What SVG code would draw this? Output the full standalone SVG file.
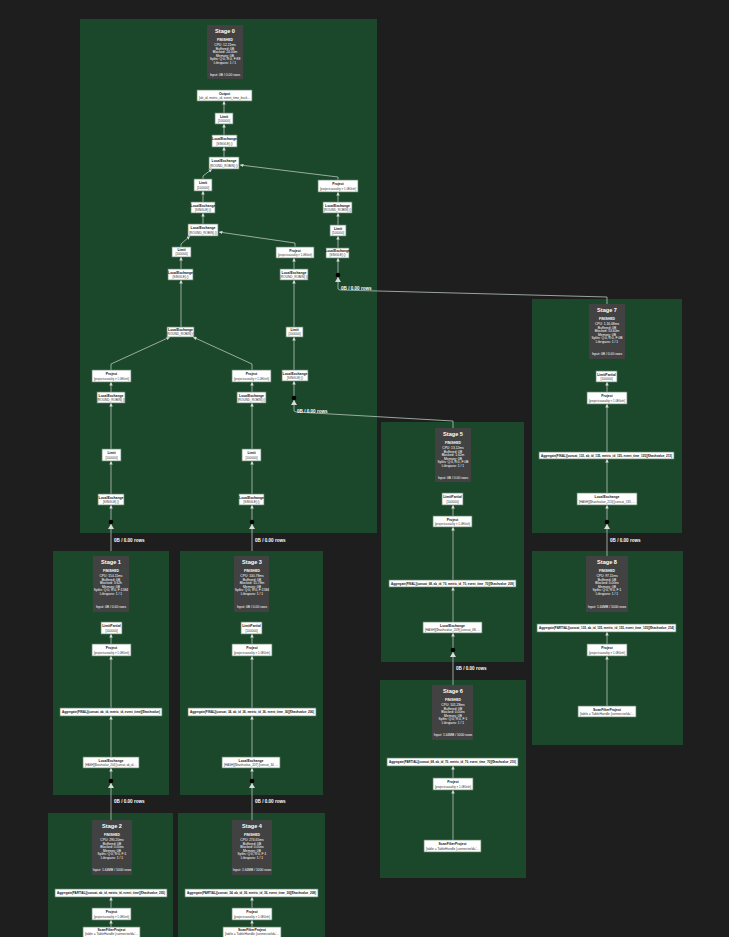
<svg xmlns="http://www.w3.org/2000/svg" width="729" height="937" viewBox="0 0 729 937">
<defs>
<style>
.cl{fill:#1b472b}
.hd{fill:#424242}
.nb{fill:#ffffff;stroke:#5f8068;stroke-width:0.7}
.t{font-family:"Liberation Sans",Arial,sans-serif;font-size:3.4px;font-weight:bold;fill:#111;text-anchor:middle}
.d{font-family:"Liberation Sans",Arial,sans-serif;font-size:3.1px;fill:#333;text-anchor:middle}
.ht{font-family:"Liberation Sans",Arial,sans-serif;font-size:5.6px;font-weight:bold;fill:#fff;text-anchor:middle}
.hs{font-family:"Liberation Sans",Arial,sans-serif;font-size:3.3px;fill:#fff;text-anchor:middle}
.hf{font-family:"Liberation Sans",Arial,sans-serif;font-size:3.4px;font-weight:bold;fill:#fff;text-anchor:middle}
.e{fill:none;stroke:#b9c6bd;stroke-width:0.8}
.lbl{font-family:"Liberation Sans",Arial,sans-serif;font-size:4.6px;font-weight:bold;fill:#fff}
.dot{fill:#000}
.ah{fill:#d6dcd8}
</style>
<marker id="a" viewBox="0 0 6 6" refX="6" refY="3" markerWidth="3.5" markerHeight="3.5" markerUnits="userSpaceOnUse" orient="auto"><path d="M0,0 L6,3 L0,6 z" fill="#d6dcd8"/></marker>
</defs>
<rect width="729" height="937" fill="#1e1e1e"/>

<g id="clusters">
<rect class="cl" x="80" y="19" width="297" height="514"/>
<rect class="cl" x="532" y="299" width="150" height="234"/>
<rect class="cl" x="381" y="422" width="143" height="240"/>
<rect class="cl" x="532" y="551" width="151" height="194"/>
<rect class="cl" x="380" y="680" width="146" height="198"/>
<rect class="cl" x="53" y="551" width="116" height="244"/>
<rect class="cl" x="180" y="551" width="143" height="244"/>
<rect class="cl" x="48" y="813" width="125" height="130"/>
<rect class="cl" x="178" y="813" width="147" height="130"/>
</g>

<g id="connectors">
<path class="e" marker-end="url(#a)" d="M224,113 L224,101"/>
<path class="e" marker-end="url(#a)" d="M224,135 L224,124"/>
<path class="e" marker-end="url(#a)" d="M224,157 L224,147"/>
<path class="e" marker-end="url(#a)" d="M203,179 L203,176 L212,169"/>
<path class="e" marker-end="url(#a)" d="M338,180 L338,177 L240,165"/>
<path class="e" marker-end="url(#a)" d="M203,202 L203,191"/>
<path class="e" marker-end="url(#a)" d="M338,202 L338,192"/>
<path class="e" marker-end="url(#a)" d="M203,224 L203,213"/>
<path class="e" marker-end="url(#a)" d="M338,225 L338,213"/>
<path class="e" marker-end="url(#a)" d="M181,247 L181,244 L190,236"/>
<path class="e" marker-end="url(#a)" d="M295,247 L295,243 L219,232"/>
<path class="e" marker-end="url(#a)" d="M338,248 L338,236"/>
<path class="e" marker-end="url(#a)" d="M181,269 L181,257"/>
<path class="e" marker-end="url(#a)" d="M294,269 L294,258"/>
<path class="e" marker-end="url(#a)" d="M181,327 L181,280"/>
<path class="e" marker-end="url(#a)" d="M294,327 L294,280"/>
<path class="e" marker-end="url(#a)" d="M111,370 L111,364 L170,337"/>
<path class="e" marker-end="url(#a)" d="M252,370 L252,364 L193,337"/>
<path class="e" marker-end="url(#a)" d="M294,370 L294,337"/>
<path class="e" marker-end="url(#a)" d="M111,392 L111,382"/>
<path class="e" marker-end="url(#a)" d="M252,392 L252,382"/>
<path class="e" marker-end="url(#a)" d="M111,449 L111,403"/>
<path class="e" marker-end="url(#a)" d="M252,449 L252,403"/>
<path class="e" marker-end="url(#a)" d="M111,494 L111,461"/>
<path class="e" marker-end="url(#a)" d="M252,494 L252,461"/>
<path class="e" marker-end="url(#a)" d="M111,551 L111,505"/>
<path class="e" marker-end="url(#a)" d="M252,551 L252,505"/>
<path class="e" marker-end="url(#a)" d="M453,428 L453,421 L296,412 L294,411 L294,381"/>
<path class="e" marker-end="url(#a)" d="M607,304 L607,297 L340,290 L338,289 L338,258"/>
<path class="e" marker-end="url(#a)" d="M607,392 L607,382"/>
<path class="e" marker-end="url(#a)" d="M607,452 L607,404"/>
<path class="e" marker-end="url(#a)" d="M607,493 L607,459"/>
<path class="e" marker-end="url(#a)" d="M607,556 L607,505"/>
<path class="e" marker-end="url(#a)" d="M607,644 L607,632"/>
<path class="e" marker-end="url(#a)" d="M607,706 L607,656"/>
<path class="e" marker-end="url(#a)" d="M453,516 L453,505"/>
<path class="e" marker-end="url(#a)" d="M453,580 L453,527"/>
<path class="e" marker-end="url(#a)" d="M453,622 L453,587"/>
<path class="e" marker-end="url(#a)" d="M453,685 L453,633"/>
<path class="e" marker-end="url(#a)" d="M453,778 L453,766"/>
<path class="e" marker-end="url(#a)" d="M453,840 L453,790"/>
<path class="e" marker-end="url(#a)" d="M111,644 L111,634"/>
<path class="e" marker-end="url(#a)" d="M111,708 L111,656"/>
<path class="e" marker-end="url(#a)" d="M111,757 L111,716"/>
<path class="e" marker-end="url(#a)" d="M111,820 L111,768"/>
<path class="e" marker-end="url(#a)" d="M252,644 L252,634"/>
<path class="e" marker-end="url(#a)" d="M252,708 L252,656"/>
<path class="e" marker-end="url(#a)" d="M252,757 L252,716"/>
<path class="e" marker-end="url(#a)" d="M252,820 L252,768"/>
<path class="e" marker-end="url(#a)" d="M111,908 L111,897"/>
<path class="e" marker-end="url(#a)" d="M111,927 L111,920"/>
<path class="e" marker-end="url(#a)" d="M252,908 L252,897"/>
<path class="e" marker-end="url(#a)" d="M252,927 L252,920"/>
<circle class="dot" cx="111" cy="522" r="2.3"/><polygon class="ah" points="111,524 108,529 114,529"/>
<circle class="dot" cx="252" cy="522" r="2.3"/><polygon class="ah" points="252,524 249,529 255,529"/>
<circle class="dot" cx="294" cy="398" r="2.3"/><polygon class="ah" points="294,400 291,405 297,405"/>
<circle class="dot" cx="338" cy="275" r="2.3"/><polygon class="ah" points="338,277 335,282 341,282"/>
<circle class="dot" cx="607" cy="522" r="2.3"/><polygon class="ah" points="607,524 604,529 610,529"/>
<circle class="dot" cx="453" cy="650" r="2.3"/><polygon class="ah" points="453,652 450,657 456,657"/>
<circle class="dot" cx="111" cy="781" r="2.3"/><polygon class="ah" points="111,783 108,788 114,788"/>
<circle class="dot" cx="252" cy="781" r="2.3"/><polygon class="ah" points="252,783 249,788 255,788"/>
<text class="lbl" x="114" y="542">0B / 0.00 rows</text>
<text class="lbl" x="255" y="542">0B / 0.00 rows</text>
<text class="lbl" x="297" y="413">0B / 0.00 rows</text>
<text class="lbl" x="341" y="290">0B / 0.00 rows</text>
<text class="lbl" x="610" y="542">0B / 0.00 rows</text>
<text class="lbl" x="456" y="670">0B / 0.00 rows</text>
<text class="lbl" x="114" y="803">0B / 0.00 rows</text>
<text class="lbl" x="255" y="803">0B / 0.00 rows</text>
</g>

<g id="stage0-header">
<rect class="hd" x="207" y="25" width="36" height="54"/>
<text class="ht" x="225" y="33">Stage 0</text>
<text class="hf" x="225" y="40.5">FINISHED</text>
<text class="hs" x="225" y="46">CPU: 12.21ms</text>
<text class="hs" x="225" y="49.5">Buffered: 0B</text>
<text class="hs" x="225" y="53">Blocked: 24.00m</text>
<text class="hs" x="225" y="56.5">Memory: 0B</text>
<text class="hs" x="225" y="60">Splits: Q:0, R:0, F:88</text>
<text class="hs" x="225" y="63.5">Lifespans: 1 / 1</text>
<text class="hs" x="225" y="75.5">Input: 0B / 0.00 rows</text>
</g>
<g id="stage7-header">
<rect class="hd" x="589" y="304" width="36" height="55"/>
<text class="ht" x="607" y="312">Stage 7</text>
<text class="hf" x="607" y="319.5">FINISHED</text>
<text class="hs" x="607" y="325">CPU: 1.16.08ms</text>
<text class="hs" x="607" y="328.5">Buffered: 0B</text>
<text class="hs" x="607" y="332">Blocked: 53.60m</text>
<text class="hs" x="607" y="335.5">Memory: 0B</text>
<text class="hs" x="607" y="339">Splits: Q:0, R:0, F:0B</text>
<text class="hs" x="607" y="342.5">Lifespans: 1 / 1</text>
<text class="hs" x="607" y="355">Input: 0B / 0.00 rows</text>
</g>
<g id="stage5-header">
<rect class="hd" x="435" y="428" width="36" height="54"/>
<text class="ht" x="453" y="436">Stage 5</text>
<text class="hf" x="453" y="443.5">FINISHED</text>
<text class="hs" x="453" y="449">CPU: 13.12ms</text>
<text class="hs" x="453" y="452.5">Buffered: 0B</text>
<text class="hs" x="453" y="456">Blocked: 1.62m</text>
<text class="hs" x="453" y="459.5">Memory: 0B</text>
<text class="hs" x="453" y="463">Splits: Q:0, R:0, F:0B</text>
<text class="hs" x="453" y="466.5">Lifespans: 1 / 1</text>
<text class="hs" x="453" y="479">Input: 0B / 0.00 rows</text>
</g>
<g id="stage8-header">
<rect class="hd" x="586" y="556" width="42" height="56"/>
<text class="ht" x="607" y="564">Stage 8</text>
<text class="hf" x="607" y="571.5">FINISHED</text>
<text class="hs" x="607" y="577">CPU: 97.11ms</text>
<text class="hs" x="607" y="580.5">Buffered: 0B</text>
<text class="hs" x="607" y="584">Blocked: 0.00ns</text>
<text class="hs" x="607" y="587.5">Memory: 0B</text>
<text class="hs" x="607" y="591">Splits: Q:0, R:0, F:1</text>
<text class="hs" x="607" y="594.5">Lifespans: 1 / 1</text>
<text class="hs" x="607" y="607.5">Input: 1.64MB / 1000 rows</text>
</g>
<g id="stage6-header">
<rect class="hd" x="432" y="685" width="41" height="55"/>
<text class="ht" x="453" y="693">Stage 6</text>
<text class="hf" x="453" y="700.5">FINISHED</text>
<text class="hs" x="453" y="706">CPU: 101.28ms</text>
<text class="hs" x="453" y="709.5">Buffered: 0B</text>
<text class="hs" x="453" y="713">Blocked: 0.00ns</text>
<text class="hs" x="453" y="716.5">Memory: 0B</text>
<text class="hs" x="453" y="720">Splits: Q:0, R:0, F:1</text>
<text class="hs" x="453" y="723.5">Lifespans: 1 / 1</text>
<text class="hs" x="453" y="736">Input: 1.64MB / 1000 rows</text>
</g>
<g id="stage1-header">
<rect class="hd" x="93" y="556" width="36" height="56"/>
<text class="ht" x="111" y="564">Stage 1</text>
<text class="hf" x="111" y="571.5">FINISHED</text>
<text class="hs" x="111" y="577">CPU: 154.11ms</text>
<text class="hs" x="111" y="580.5">Buffered: 0B</text>
<text class="hs" x="111" y="584">Blocked: 3.62h</text>
<text class="hs" x="111" y="587.5">Memory: 0B</text>
<text class="hs" x="111" y="591">Splits: Q:0, R:0, F:1584</text>
<text class="hs" x="111" y="594.5">Lifespans: 1 / 1</text>
<text class="hs" x="111" y="607.5">Input: 0B / 0.00 rows</text>
</g>
<g id="stage3-header">
<rect class="hd" x="234" y="556" width="35" height="56"/>
<text class="ht" x="252" y="564">Stage 3</text>
<text class="hf" x="252" y="571.5">FINISHED</text>
<text class="hs" x="252" y="577">CPU: 100.78ms</text>
<text class="hs" x="252" y="580.5">Buffered: 0B</text>
<text class="hs" x="252" y="584">Blocked: 15.78m</text>
<text class="hs" x="252" y="587.5">Memory: 0B</text>
<text class="hs" x="252" y="591">Splits: Q:0, R:0, F:1584</text>
<text class="hs" x="252" y="594.5">Lifespans: 1 / 1</text>
<text class="hs" x="252" y="607.5">Input: 0B / 0.00 rows</text>
</g>
<g id="stage2-header">
<rect class="hd" x="92" y="820" width="40" height="55"/>
<text class="ht" x="112" y="828">Stage 2</text>
<text class="hf" x="112" y="835.5">FINISHED</text>
<text class="hs" x="112" y="841">CPU: 290.20ms</text>
<text class="hs" x="112" y="844.5">Buffered: 0B</text>
<text class="hs" x="112" y="848">Blocked: 0.00ns</text>
<text class="hs" x="112" y="851.5">Memory: 0B</text>
<text class="hs" x="112" y="855">Splits: Q:0, R:0, F:1</text>
<text class="hs" x="112" y="858.5">Lifespans: 1 / 1</text>
<text class="hs" x="112" y="871">Input: 1.64MB / 1000 rows</text>
</g>
<g id="stage4-header">
<rect class="hd" x="232" y="820" width="40" height="55"/>
<text class="ht" x="252" y="828">Stage 4</text>
<text class="hf" x="252" y="835.5">FINISHED</text>
<text class="hs" x="252" y="841">CPU: 274.65ms</text>
<text class="hs" x="252" y="844.5">Buffered: 0B</text>
<text class="hs" x="252" y="848">Blocked: 0.00ns</text>
<text class="hs" x="252" y="851.5">Memory: 0B</text>
<text class="hs" x="252" y="855">Splits: Q:0, R:0, F:1</text>
<text class="hs" x="252" y="858.5">Lifespans: 1 / 1</text>
<text class="hs" x="252" y="871">Input: 1.64MB / 1000 rows</text>
</g>

<g id="s0-output"><rect class="nb" x="197" y="90" width="55" height="11"/><text class="t" x="224.5" y="94.5">Output</text><text class="d" x="224.5" y="99" textLength="51" lengthAdjust="spacingAndGlyphs">[ab_id, metric_id, event_time_buck...</text></g>
<g id="s0-limit1"><rect class="nb" x="215" y="113" width="18" height="11"/><text class="t" x="224" y="117.5">Limit</text><text class="d" x="224" y="122">[100000]</text></g>
<g id="s0-lex1"><rect class="nb" x="212" y="135" width="25" height="12"/><text class="t" x="224.5" y="139.8">LocalExchange</text><text class="d" x="224.5" y="144.5">[SINGLE] ()</text></g>
<g id="s0-lex2"><rect class="nb" x="209" y="157" width="30" height="12"/><text class="t" x="224" y="161.8">LocalExchange</text><text class="d" x="224" y="166.5">[ROUND_ROBIN] ()</text></g>
<g id="s0-limit2"><rect class="nb" x="194" y="179" width="18" height="12"/><text class="t" x="203" y="183.8">Limit</text><text class="d" x="203" y="188.5">[100000]</text></g>
<g id="s0-project1"><rect class="nb" x="318" y="180" width="40" height="12"/><text class="t" x="338" y="184.8">Project</text><text class="d" x="338" y="189.5" textLength="36" lengthAdjust="spacingAndGlyphs">[projectcausality &gt; 1.0E0ish]</text></g>
<g id="s0-lex3"><rect class="nb" x="191" y="202" width="24" height="11"/><text class="t" x="203" y="206.5">LocalExchange</text><text class="d" x="203" y="211">[SINGLE] ()</text></g>
<g id="s0-lex4"><rect class="nb" x="323" y="202" width="29" height="11"/><text class="t" x="337.5" y="206.5">LocalExchange</text><text class="d" x="337.5" y="211">[ROUND_ROBIN] ()</text></g>
<g id="s0-lex5"><rect class="nb" x="188" y="224" width="30" height="12"/><text class="t" x="203" y="228.8">LocalExchange</text><text class="d" x="203" y="233.5">[ROUND_ROBIN] ()</text></g>
<g id="s0-limit3"><rect class="nb" x="330" y="225" width="16" height="11"/><text class="t" x="338" y="229.5">Limit</text><text class="d" x="338" y="234">[100000]</text></g>
<g id="s0-limit4"><rect class="nb" x="172" y="247" width="19" height="10"/><text class="t" x="181.5" y="251">Limit</text><text class="d" x="181.5" y="255.3">[100000]</text></g>
<g id="s0-project2"><rect class="nb" x="276" y="247" width="38" height="11"/><text class="t" x="295" y="251.5">Project</text><text class="d" x="295" y="256" textLength="34" lengthAdjust="spacingAndGlyphs">[projectcausality &gt; 1.0E0ish]</text></g>
<g id="s0-lex6"><rect class="nb" x="326" y="248" width="23" height="10"/><text class="t" x="337.5" y="252">LocalExchange</text><text class="d" x="337.5" y="256.3">[SINGLE] ()</text></g>
<g id="s0-lex7"><rect class="nb" x="168" y="269" width="25" height="11"/><text class="t" x="180.5" y="273.5">LocalExchange</text><text class="d" x="180.5" y="278">[SINGLE] ()</text></g>
<g id="s0-lex8"><rect class="nb" x="280" y="269" width="28" height="11"/><text class="t" x="294" y="273.5">LocalExchange</text><text class="d" x="294" y="278">[ROUND_ROBIN] ()</text></g>
<g id="s0-lex9"><rect class="nb" x="167" y="327" width="27" height="10"/><text class="t" x="180.5" y="331">LocalExchange</text><text class="d" x="180.5" y="335.3">[ROUND_ROBIN] ()</text></g>
<g id="s0-limit5"><rect class="nb" x="286" y="327" width="17" height="10"/><text class="t" x="294.5" y="331">Limit</text><text class="d" x="294.5" y="335.3">[100000]</text></g>
<g id="s0-project3"><rect class="nb" x="92" y="370" width="39" height="12"/><text class="t" x="111.5" y="374.8">Project</text><text class="d" x="111.5" y="379.5" textLength="35" lengthAdjust="spacingAndGlyphs">[projectcausality &gt; 1.0E0ish]</text></g>
<g id="s0-project4"><rect class="nb" x="232" y="370" width="39" height="12"/><text class="t" x="251.5" y="374.8">Project</text><text class="d" x="251.5" y="379.5" textLength="35" lengthAdjust="spacingAndGlyphs">[projectcausality &gt; 1.0E0ish]</text></g>
<g id="s0-lex10"><rect class="nb" x="282" y="370" width="26" height="11"/><text class="t" x="295" y="374.5">LocalExchange</text><text class="d" x="295" y="379">[SINGLE] ()</text></g>
<g id="s0-lex11"><rect class="nb" x="97" y="392" width="28" height="11"/><text class="t" x="111" y="396.5">LocalExchange</text><text class="d" x="111" y="401">[ROUND_ROBIN] ()</text></g>
<g id="s0-lex12"><rect class="nb" x="237" y="392" width="29" height="11"/><text class="t" x="251.5" y="396.5">LocalExchange</text><text class="d" x="251.5" y="401">[ROUND_ROBIN] ()</text></g>
<g id="s0-limit6"><rect class="nb" x="102" y="449" width="19" height="12"/><text class="t" x="111.5" y="453.8">Limit</text><text class="d" x="111.5" y="458.5">[100000]</text></g>
<g id="s0-limit7"><rect class="nb" x="242" y="449" width="19" height="12"/><text class="t" x="251.5" y="453.8">Limit</text><text class="d" x="251.5" y="458.5">[100000]</text></g>
<g id="s0-lex13"><rect class="nb" x="98" y="494" width="26" height="11"/><text class="t" x="111" y="498.5">LocalExchange</text><text class="d" x="111" y="503">[SINGLE] ()</text></g>
<g id="s0-lex14"><rect class="nb" x="239" y="494" width="25" height="11"/><text class="t" x="251.5" y="498.5">LocalExchange</text><text class="d" x="251.5" y="503">[SINGLE] ()</text></g>

<g id="s7-limitpartial"><rect class="nb" x="596" y="371" width="21" height="11"/><text class="t" x="606.5" y="375.5">LimitPartial</text><text class="d" x="606.5" y="380">[100000]</text></g>
<g id="s7-project"><rect class="nb" x="587" y="392" width="40" height="12"/><text class="t" x="607" y="396.8">Project</text><text class="d" x="607" y="401.5" textLength="36" lengthAdjust="spacingAndGlyphs">[projectcausality &gt; 1.0E0ish]</text></g>
<g id="s7-agg"><rect class="nb" x="539" y="452" width="135" height="7"/><text class="t" x="606.5" y="456.6" textLength="131" lengthAdjust="spacingAndGlyphs">Aggregate(FINAL)[concat_133, ab_id_135, metric_id_135, event_time_135][$hashvalue_213]</text></g>
<g id="s7-lex"><rect class="nb" x="577" y="493" width="60" height="12"/><text class="t" x="607" y="497.8">LocalExchange</text><text class="d" x="607" y="502.5" textLength="56" lengthAdjust="spacingAndGlyphs">[HASH][$hashvalue_213] [concat_133, ...</text></g>

<g id="s8-agg"><rect class="nb" x="537" y="624" width="139" height="8"/><text class="t" x="606.5" y="629.2" textLength="135" lengthAdjust="spacingAndGlyphs">Aggregate(PARTIAL)[concat_133, ab_id_135, metric_id_135, event_time_135][$hashvalue_214]</text></g>
<g id="s8-project"><rect class="nb" x="587" y="644" width="40" height="12"/><text class="t" x="607" y="648.8">Project</text><text class="d" x="607" y="653.5" textLength="36" lengthAdjust="spacingAndGlyphs">[projectcausality &gt; 1.0E0ish]</text></g>
<g id="s8-scan"><rect class="nb" x="578" y="706" width="58" height="11"/><text class="t" x="607" y="710.5">ScanFilterProject</text><text class="d" x="607" y="715" textLength="54" lengthAdjust="spacingAndGlyphs">[table = TableHandle {connectorId='...</text></g>

<g id="s5-limitpartial"><rect class="nb" x="442" y="493" width="21" height="12"/><text class="t" x="452.5" y="497.8">LimitPartial</text><text class="d" x="452.5" y="502.5">[100000]</text></g>
<g id="s5-project"><rect class="nb" x="433" y="516" width="39" height="11"/><text class="t" x="452.5" y="520.5">Project</text><text class="d" x="452.5" y="525" textLength="35" lengthAdjust="spacingAndGlyphs">[projectcausality &gt; 1.0E0ish]</text></g>
<g id="s5-agg"><rect class="nb" x="389" y="580" width="127" height="7"/><text class="t" x="452.5" y="584.6" textLength="123" lengthAdjust="spacingAndGlyphs">Aggregate(FINAL)[concat_68, ab_id_70, metric_id_70, event_time_70][$hashvalue_209]</text></g>
<g id="s5-lex"><rect class="nb" x="423" y="622" width="59" height="11"/><text class="t" x="452.5" y="626.5">LocalExchange</text><text class="d" x="452.5" y="631" textLength="55" lengthAdjust="spacingAndGlyphs">[HASH][$hashvalue_209] [concat_68, ...</text></g>

<g id="s6-agg"><rect class="nb" x="387" y="758" width="131" height="8"/><text class="t" x="452.5" y="763.2" textLength="127" lengthAdjust="spacingAndGlyphs">Aggregate(PARTIAL)[concat_68, ab_id_70, metric_id_70, event_time_70][$hashvalue_210]</text></g>
<g id="s6-project"><rect class="nb" x="433" y="778" width="40" height="12"/><text class="t" x="453" y="782.8">Project</text><text class="d" x="453" y="787.5" textLength="36" lengthAdjust="spacingAndGlyphs">[projectcausality &gt; 1.0E0ish]</text></g>
<g id="s6-scan"><rect class="nb" x="424" y="840" width="57" height="12"/><text class="t" x="452.5" y="844.8">ScanFilterProject</text><text class="d" x="452.5" y="849.5" textLength="53" lengthAdjust="spacingAndGlyphs">[table = TableHandle {connectorId='...</text></g>

<g id="s1-limitpartial"><rect class="nb" x="101" y="622" width="21" height="12"/><text class="t" x="111.5" y="626.8">LimitPartial</text><text class="d" x="111.5" y="631.5">[100000]</text></g>
<g id="s1-project"><rect class="nb" x="92" y="644" width="39" height="12"/><text class="t" x="111.5" y="648.8">Project</text><text class="d" x="111.5" y="653.5" textLength="35" lengthAdjust="spacingAndGlyphs">[projectcausality &gt; 1.0E0ish]</text></g>
<g id="s1-agg"><rect class="nb" x="60" y="708" width="102" height="8"/><text class="t" x="111" y="713.2" textLength="98" lengthAdjust="spacingAndGlyphs">Aggregate(FINAL)[concat, ab_id, metric_id, event_time][$hashvalue]</text></g>
<g id="s1-lex"><rect class="nb" x="83" y="757" width="56" height="11"/><text class="t" x="111" y="761.5">LocalExchange</text><text class="d" x="111" y="766" textLength="52" lengthAdjust="spacingAndGlyphs">[HASH][$hashvalue_204] [concat, ab_id, ...</text></g>

<g id="s3-limitpartial"><rect class="nb" x="241" y="622" width="21" height="12"/><text class="t" x="251.5" y="626.8">LimitPartial</text><text class="d" x="251.5" y="631.5">[100000]</text></g>
<g id="s3-project"><rect class="nb" x="232" y="644" width="40" height="12"/><text class="t" x="252" y="648.8">Project</text><text class="d" x="252" y="653.5" textLength="36" lengthAdjust="spacingAndGlyphs">[projectcausality &gt; 1.0E0ish]</text></g>
<g id="s3-agg"><rect class="nb" x="188" y="708" width="128" height="8"/><text class="t" x="252" y="713.2" textLength="124" lengthAdjust="spacingAndGlyphs">Aggregate(FINAL)[concat_34, ab_id_36, metric_id_36, event_time_36][$hashvalue_206]</text></g>
<g id="s3-lex"><rect class="nb" x="222" y="757" width="58" height="11"/><text class="t" x="251" y="761.5">LocalExchange</text><text class="d" x="251" y="766" textLength="54" lengthAdjust="spacingAndGlyphs">[HASH][$hashvalue_207] [concat_34, ...</text></g>

<g id="s2-agg"><rect class="nb" x="55" y="889" width="112" height="8"/><text class="t" x="111" y="894.2" textLength="108" lengthAdjust="spacingAndGlyphs">Aggregate(PARTIAL)[concat, ab_id, metric_id, event_time][$hashvalue_205]</text></g>
<g id="s2-project"><rect class="nb" x="92" y="908" width="39" height="12"/><text class="t" x="111.5" y="912.8">Project</text><text class="d" x="111.5" y="917.5" textLength="35" lengthAdjust="spacingAndGlyphs">[projectcausality &gt; 1.0E0ish]</text></g>
<g id="s2-scan"><rect class="nb" x="83" y="927" width="57" height="12"/><text class="t" x="111.5" y="931.3">ScanFilterProject</text><text class="d" x="111.5" y="935.3" textLength="53" lengthAdjust="spacingAndGlyphs">[table = TableHandle {connectorId='...</text></g>

<g id="s4-agg"><rect class="nb" x="185" y="889" width="133" height="8"/><text class="t" x="251.5" y="894.2" textLength="129" lengthAdjust="spacingAndGlyphs">Aggregate(PARTIAL)[concat_34, ab_id_36, metric_id_36, event_time_36][$hashvalue_208]</text></g>
<g id="s4-project"><rect class="nb" x="232" y="908" width="40" height="12"/><text class="t" x="252" y="912.8">Project</text><text class="d" x="252" y="917.5" textLength="36" lengthAdjust="spacingAndGlyphs">[projectcausality &gt; 1.0E0ish]</text></g>
<g id="s4-scan"><rect class="nb" x="223" y="927" width="58" height="12"/><text class="t" x="252" y="931.3">ScanFilterProject</text><text class="d" x="252" y="935.3" textLength="54" lengthAdjust="spacingAndGlyphs">[table = TableHandle {connectorId='...</text></g>
</svg>
